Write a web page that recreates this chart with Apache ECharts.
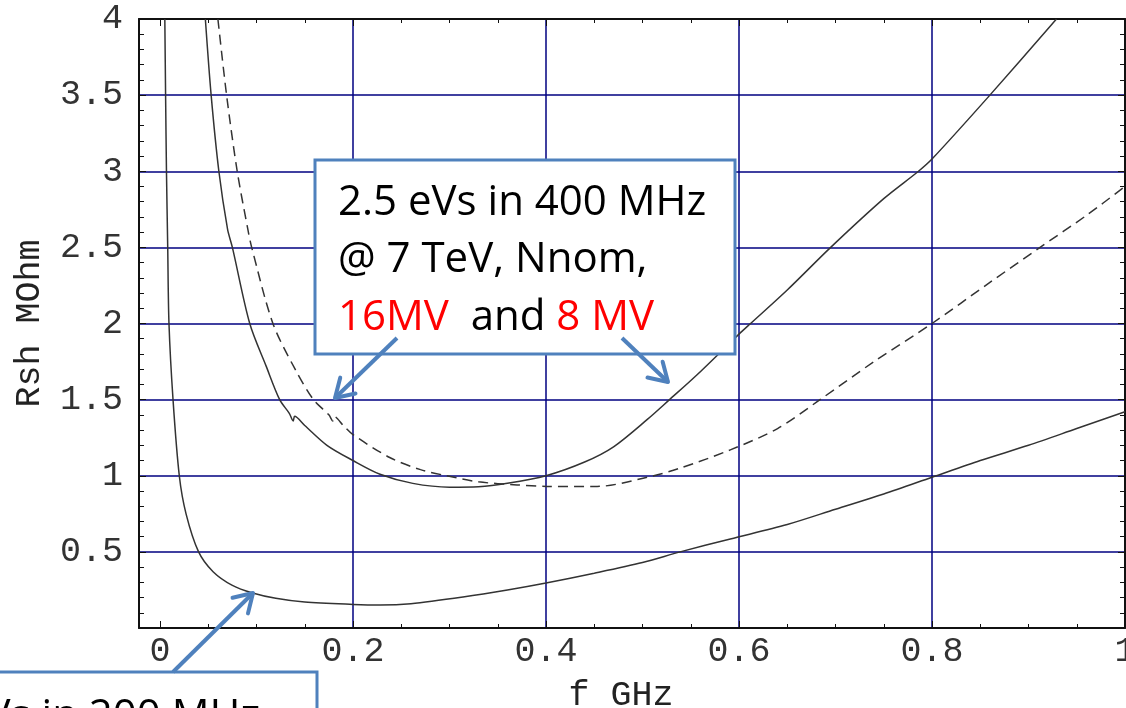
<!DOCTYPE html>
<html><head><meta charset="utf-8">
<script src="https://cdn.jsdelivr.net/npm/echarts@6/dist/echarts.min.js"></script>
<style>html,body{margin:0;padding:0;background:#fff}#c{width:1126px;height:708px}</style>
</head><body><div id="c"></div>
<script>
// ---- data ----
const xTickValues = [0, 0.2, 0.4, 0.6, 0.8, 1];
const xTickLabels = ['0', '0.2', '0.4', '0.6', '0.8', '1'];
const yTickValues = [0.5, 1, 1.5, 2, 2.5, 3, 3.5, 4];
const yTickLabels = ['0.5', '1', '1.5', '2', '2.5', '3', '3.5', '4'];

// lower solid curve (200 MHz case)
const curveA_x = [0.005, 0.0058, 0.0067, 0.008, 0.0093, 0.0135, 0.020, 0.027, 0.040, 0.055, 0.075, 0.096, 0.12, 0.15, 0.20, 0.228, 0.26, 0.314, 0.36, 0.40, 0.45, 0.50, 0.539, 0.591, 0.65, 0.70, 0.75, 0.80, 0.85, 0.90, 0.95, 1.00];
const curveA_y = [4.0, 3.5, 3.0, 2.5, 2.0, 1.5, 1.0, 0.75, 0.5, 0.37, 0.28, 0.23, 0.195, 0.17, 0.155, 0.151, 0.16, 0.204, 0.25, 0.296, 0.36, 0.43, 0.5, 0.585, 0.68, 0.78, 0.88, 0.99, 1.10, 1.20, 1.31, 1.42];

// solid curve, 16 MV
const curveB_x = [0.047, 0.053, 0.061, 0.070, 0.075, 0.093, 0.11, 0.124, 0.134, 0.138, 0.1395, 0.15, 0.173, 0.20, 0.228, 0.262, 0.30, 0.33, 0.36, 0.40, 0.44, 0.47, 0.505, 0.528, 0.556, 0.60, 0.612, 0.65, 0.695, 0.75, 0.786, 0.80, 0.86, 0.929];
const curveB_y = [4.0, 3.5, 3.0, 2.62, 2.5, 2.0, 1.72, 1.5, 1.41, 1.36, 1.39, 1.33, 1.20, 1.10, 1.01, 0.95, 0.925, 0.928, 0.95, 1.0, 1.09, 1.19, 1.37, 1.5, 1.66, 1.93, 2.0, 2.22, 2.5, 2.82, 3.0, 3.08, 3.5, 4.0];

// dashed curve, 8 MV
const curveC_x = [0.060, 0.069, 0.080, 0.091, 0.095, 0.117, 0.14, 0.159, 0.175, 0.179, 0.1805, 0.19, 0.20, 0.238, 0.27, 0.297, 0.33, 0.37, 0.401, 0.453, 0.505, 0.539, 0.591, 0.64, 0.684, 0.74, 0.80, 0.86, 0.912, 0.96, 1.00];
const curveC_y = [4.0, 3.5, 3.0, 2.62, 2.5, 2.0, 1.7, 1.5, 1.40, 1.36, 1.39, 1.33, 1.27, 1.12, 1.04, 1.0, 0.96, 0.94, 0.93, 0.93, 0.99, 1.05, 1.17, 1.31, 1.5, 1.75, 2.0, 2.27, 2.5, 2.71, 2.9];

// ---- chart ----
const zip = (xs, ys) => xs.map((x, i) => [x, ys[i]]);
const MONO = 'Liberation Mono';
const FRAME = {color: '#111', width: 2};
const GRIDLINE = {color: '#000080', width: 1.5};
const TICK = {color: '#111', width: 1};
const BLUE = '#4f81bd';
const TXT = '42px "Open Sans"';

function arrow(x1, y1, x2, y2) {
  const ang = Math.atan2(y1 - y2, x1 - x2), L = 21, a = 0.55;
  return [
    {type: 'line', z: 101, shape: {x1, y1, x2, y2}, style: {stroke: BLUE, lineWidth: 4}},
    {type: 'polyline', z: 101, shape: {points: [
      [x2 + L * Math.cos(ang + a), y2 + L * Math.sin(ang + a)], [x2, y2],
      [x2 + L * Math.cos(ang - a), y2 + L * Math.sin(ang - a)]]},
     style: {stroke: BLUE, lineWidth: 4, fill: null, lineCap: 'round', lineJoin: 'round'}}
  ];
}

const chart = echarts.init(document.getElementById('c'), null, {renderer: 'canvas'});
const lineSeries = (xs, ys, dash) => ({
  type: 'line', xAxisIndex: 2, yAxisIndex: 2, data: zip(xs, ys),
  showSymbol: false, smooth: 0.3, clip: true, silent: true,
  lineStyle: {color: '#333', width: 1.5, type: dash ? [10, 6] : 'solid'}
});

chart.setOption({
  animation: false,
  backgroundColor: '#fff',
  grid: [
    {left: 139, right: 1, top: 19, bottom: 80, containLabel: false, outerBoundsMode: 'none'},
    {left: 160, right: 1, top: 19, bottom: 80, containLabel: false, outerBoundsMode: 'none'}
  ],
  xAxis: [
    {gridIndex: 0, type: 'value', min: 0, max: 1, position: 'bottom',
     axisLine: {show: true, onZero: false, lineStyle: FRAME}, axisTick: {show: false},
     axisLabel: {show: false}, splitLine: {show: false},
     name: 'f GHz', nameLocation: 'middle', nameGap: 50,
     nameTextStyle: {fontFamily: MONO, fontSize: 35, color: '#222', padding: [0, 22, 0, 0]}},
    {gridIndex: 0, type: 'value', min: 0, max: 1, position: 'top',
     axisLine: {show: true, onZero: false, lineStyle: FRAME}, axisTick: {show: false},
     axisLabel: {show: false}, splitLine: {show: false}},
    {gridIndex: 1, type: 'value', min: 0, max: 1, interval: 0.2, position: 'bottom',
     axisLine: {show: false, onZero: false},
     axisTick: {show: true, inside: true, length: 7, lineStyle: TICK},
     minorTick: {show: true, splitNumber: 4, length: 4, lineStyle: TICK},
     axisLabel: {show: true, margin: 6, fontFamily: MONO, fontSize: 35, color: '#333',
       showMinLabel: true, showMaxLabel: true,
       formatter: v => { const i = xTickValues.findIndex(t => Math.abs(t - v) < 1e-9); return i >= 0 ? xTickLabels[i] : ''; }},
     splitLine: {show: true, showMinLine: false, showMaxLine: false, lineStyle: GRIDLINE}},
    {gridIndex: 1, type: 'value', min: 0, max: 1, interval: 0.2, position: 'top',
     axisLine: {show: false, onZero: false},
     axisTick: {show: true, inside: true, length: 7, lineStyle: TICK},
     minorTick: {show: true, splitNumber: 4, length: 4, lineStyle: TICK},
     axisLabel: {show: false}, splitLine: {show: false}}
  ],
  yAxis: [
    {gridIndex: 0, type: 'value', min: 0, max: 4, interval: 0.5, position: 'left',
     axisLine: {show: true, onZero: false, lineStyle: FRAME},
     axisTick: {show: true, inside: true, length: 7, lineStyle: TICK},
     minorTick: {show: true, splitNumber: 5, length: 5, lineStyle: TICK},
     axisLabel: {show: true, margin: 16, fontFamily: MONO, fontSize: 35, color: '#333',
       showMinLabel: false, showMaxLabel: true,
       formatter: v => { const i = yTickValues.findIndex(t => Math.abs(t - v) < 1e-9); return i >= 0 ? yTickLabels[i] : ''; }},
     splitLine: {show: true, showMinLine: false, showMaxLine: false, lineStyle: GRIDLINE},
     name: 'Rsh MOhm', nameLocation: 'middle', nameGap: 92, nameRotate: 90,
     nameTextStyle: {fontFamily: MONO, fontSize: 35, color: '#222'}},
    {gridIndex: 0, type: 'value', min: 0, max: 4, interval: 0.5, position: 'right',
     axisLine: {show: true, onZero: false, lineStyle: FRAME},
     axisTick: {show: true, inside: true, length: 7, lineStyle: TICK},
     minorTick: {show: true, splitNumber: 5, length: 5, lineStyle: TICK},
     axisLabel: {show: false}, splitLine: {show: false}},
    {gridIndex: 1, type: 'value', min: 0, max: 4, show: false}
  ],
  series: [
    lineSeries(curveA_x, curveA_y, false),
    lineSeries(curveB_x, curveB_y, false),
    lineSeries(curveC_x, curveC_y, true)
  ],
  graphic: [
    {type: 'rect', z: 100, shape: {x: 315, y: 160, width: 420, height: 194},
     style: {fill: '#fff', stroke: BLUE, lineWidth: 3}},
    {type: 'text', z: 102, x: 338, y: 203, style: {text: '2.5 eVs in 400 MHz', font: TXT, fill: '#000', verticalAlign: 'middle'}},
    {type: 'text', z: 102, x: 338, y: 260, style: {text: '@ 7 TeV, Nnom,', font: TXT, fill: '#000', verticalAlign: 'middle'}},
    {type: 'text', z: 102, x: 338, y: 318, style: {text: '{r|16MV}  and {r|8 MV}', font: TXT, fill: '#000', verticalAlign: 'middle',
      rich: {r: {fill: '#ff0000', font: TXT}}}},
    ...arrow(397, 338, 335, 398),
    ...arrow(622, 338, 668, 382),
    {type: 'rect', z: 100, shape: {x: -120, y: 672, width: 437, height: 200},
     style: {fill: '#fff', stroke: BLUE, lineWidth: 3}},
    {type: 'text', z: 102, x: -108, y: 717, style: {text: '2.5 eVs in 200 MHz', font: TXT, fill: '#000', verticalAlign: 'middle'}},
    ...arrow(173, 672, 253, 593)
  ]
});
</script></body></html>
